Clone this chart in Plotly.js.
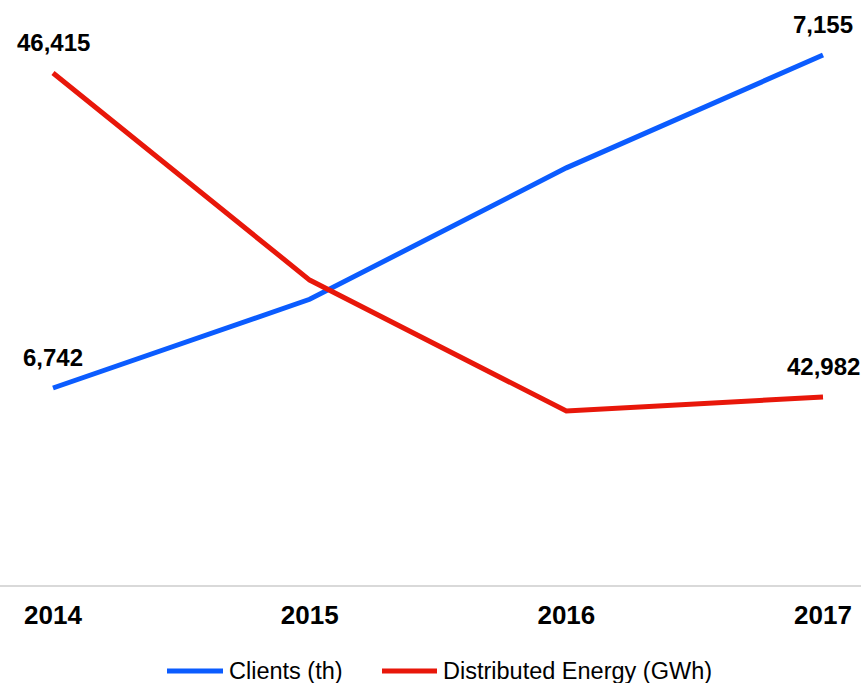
<!DOCTYPE html>
<html>
<head>
<meta charset="utf-8">
<script src="https://cdn.plot.ly/plotly-3.0.1.min.js"></script>
<style>html,body{margin:0;padding:0;background:#fff;}#chart{width:861px;height:683px;}</style>
</head>
<body>
<div id="chart"></div>
<script>
const years = [2014, 2015, 2016, 2017];
const tickLabels = ["2014", "2015", "2016", "2017"];
const clients = [6742, 6852, 7015, 7155];
const energy = [46415, 44221, 42833, 42982];
const clientsName = "Clients (th)";
const energyName = "Distributed Energy (GWh)";

const blue = "#0b5cff";
const red = "#e8170a";
const fmt = v => v.toLocaleString("en-US");
const FONT = "Liberation Sans, Arial, sans-serif";

const W = 861, H = 683, MT = 20, MB = 98;
const plotH = H - MT - MB;
const px = x => x / W;
const py = y => (H - MB - y) / plotH;

const traces = [
  {x: years, y: clients, name: clientsName, type: "scatter", mode: "lines",
   line: {color: blue, width: 5}, yaxis: "y", hoverinfo: "none"},
  {x: years, y: energy, name: energyName, type: "scatter", mode: "lines",
   line: {color: red, width: 5}, yaxis: "y2", hoverinfo: "none"}
];

const labelFont = {family: FONT, size: 24, color: "#000"};
const annotations = [];
[0, years.length - 1].forEach(i => {
  annotations.push({x: years[i], y: clients[i], yref: "y", text: "<b>" + fmt(clients[i]) + "</b>",
    showarrow: false, yshift: 31, font: labelFont});
  annotations.push({x: years[i], y: energy[i], yref: "y2", text: "<b>" + fmt(energy[i]) + "</b>",
    showarrow: false, yshift: 31, font: labelFont});
});

// custom legend (long line symbols)
const legendItems = [
  {name: clientsName, color: blue, x0: 167, x1: 223},
  {name: energyName, color: red, x0: 382, x1: 437}
];
const legendY = 671;
const shapes = [];
legendItems.forEach(it => {
  shapes.push({type: "line", xref: "paper", yref: "paper", x0: px(it.x0), x1: px(it.x1),
    y0: py(legendY), y1: py(legendY), line: {color: it.color, width: 5}});
  annotations.push({xref: "paper", yref: "paper", x: px(it.x1 + 4), y: py(legendY),
    xanchor: "left", yanchor: "middle", text: it.name, showarrow: false,
    font: {family: FONT, size: 23.5, color: "#000"}});
});

const layout = {
  width: W, height: H,
  margin: {l: 0, r: 0, t: MT, b: MB},
  paper_bgcolor: "#fff", plot_bgcolor: "#fff",
  showlegend: false,
  xaxis: {range: [2013.7935, 2017.148], tickvals: years, ticktext: tickLabels.map(t => "<b>" + t + "</b>"),
    showgrid: false, zeroline: false, showline: true, linecolor: "#d9d9d9", linewidth: 2,
    ticks: "", ticklabelstandoff: 6,
    tickfont: {family: FONT, size: 26, color: "#000"}},
  yaxis: {range: [6497.7, 7198.4], visible: false, showgrid: false, zeroline: false},
  yaxis2: {range: [40990, 46977], visible: false, overlaying: "y", side: "right", showgrid: false, zeroline: false},
  annotations: annotations,
  shapes: shapes
};

Plotly.newPlot("chart", traces, layout, {displayModeBar: false, staticPlot: true});
</script>
</body>
</html>
